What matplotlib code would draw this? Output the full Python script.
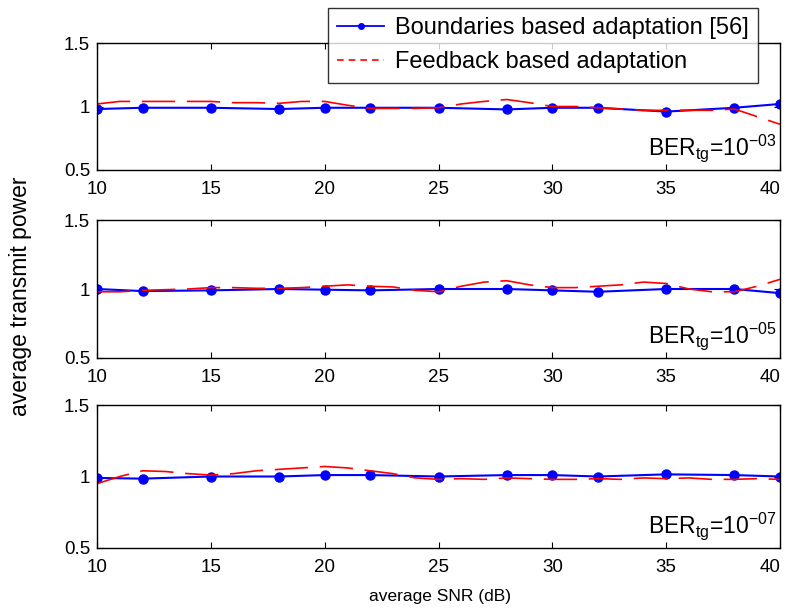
import matplotlib
matplotlib.use("Agg")
import matplotlib.pyplot as plt
from matplotlib.lines import Line2D

plt.rcParams["font.family"] = ["Liberation Sans", "DejaVu Sans"]
plt.rcParams["mathtext.fontset"] = "custom"
plt.rcParams["mathtext.rm"] = "Liberation Sans"
plt.rcParams["mathtext.it"] = "Liberation Sans"

# SNR grid of the boundaries scheme (marked points)
snr_marked = [10, 12, 15, 18, 20, 22, 25, 28, 30, 32, 35, 38, 40]
# SNR grid of the feedback scheme (1 dB steps)
snr_fine = list(range(10, 41))

ber_labels = ["-03", "-05", "-07"]

bound_1e3 = [0.98, 0.99, 0.99, 0.98, 0.99, 0.99, 0.99, 0.977, 0.99, 0.99, 0.96, 0.99, 1.02]
bound_1e5 = [1.0, 0.985, 0.99, 1.0, 0.995, 0.99, 1.0, 1.0, 0.99, 0.98, 1.0, 1.0, 0.97]
bound_1e7 = [0.99, 0.985, 1.0, 1.0, 1.01, 1.01, 1.0, 1.01, 1.01, 1.0, 1.015, 1.01, 1.0]

feed_1e3 = [1.02, 1.04, 1.04, 1.04, 1.04, 1.04, 1.03, 1.03, 1.025, 1.04, 1.04,
            1.01, 0.985, 0.985, 0.985, 0.99, 1.02, 1.04, 1.055, 1.03, 1.0,
            1.0, 0.99, 0.98, 0.97, 0.97, 0.97, 0.97, 0.98, 0.92, 0.86]
feed_1e5 = [0.98, 0.98, 0.99, 0.995, 1.0, 1.01, 1.01, 1.005, 1.005, 1.01, 1.02,
            1.03, 1.02, 1.015, 0.99, 0.98, 1.02, 1.05, 1.06, 1.03, 1.01,
            1.01, 1.02, 1.03, 1.05, 1.04, 1.0, 0.98, 0.98, 1.02, 1.07]
feed_1e7 = [0.95, 1.0, 1.04, 1.035, 1.02, 1.01, 1.02, 1.04, 1.05, 1.06, 1.07,
            1.06, 1.04, 1.02, 0.99, 0.98, 0.985, 0.98, 0.99, 0.985, 0.98,
            0.98, 0.985, 0.98, 0.99, 0.985, 0.99, 0.98, 0.98, 0.985, 0.98]

bound = [bound_1e3, bound_1e5, bound_1e7]
feed = [feed_1e3, feed_1e5, feed_1e7]

fig = plt.figure(figsize=(7.86, 6.10), dpi=100)
left, width = 97 / 786, 683 / 786
boxes = [(43, 170), (220, 358), (405, 548)]

for k, (top, bot) in enumerate(boxes):
    ax = fig.add_axes([left, 1 - bot / 610, width, (bot - top) / 610])
    ax.plot(snr_marked, bound[k], color="blue", lw=1.5, marker="o", ms=6.5)
    ax.plot(snr_fine, feed[k], color="red", lw=1.2, dashes=(20, 7))
    ax.set_xlim(10, 40)
    ax.set_ylim(0.5, 1.5)
    ax.set_xticks([10, 15, 20, 25, 30, 35, 40])
    ax.set_yticks([0.5, 1, 1.5])
    ax.set_yticklabels(["0.5", "1", "1.5"])
    ax.tick_params(direction="in", top=True, right=True, labelsize=13.5, length=4)
    ax.tick_params(axis="x", pad=8)
    ax.tick_params(axis="y", pad=5)
    ax.get_xticklabels()[-1].set_horizontalalignment("right")
    for s in ax.spines.values():
        s.set_linewidth(1.0)
    ax.text(0.995, 0.045, "BER$_{tg}$=10$^{" + ber_labels[k] + "}$",
            transform=ax.transAxes, ha="right", va="bottom", fontsize=16.5)

handles = [
    Line2D([], [], color="blue", lw=1.3, marker="o", ms=4),
    Line2D([], [], color="red", lw=1.2, dashes=(4, 3)),
]
leg = fig.legend(handles, ["Boundaries based adaptation [56]", "Feedback based adaptation"],
                 loc="upper right", bbox_to_anchor=(758 / 786, 1 - 8 / 610), borderaxespad=0,
                 fontsize=17, frameon=True, fancybox=False, edgecolor="black",
                 handlelength=2.0, handletextpad=0.45, borderpad=0.4, labelspacing=0.5)
leg.get_frame().set_linewidth(1.0)

fig.text(440 / 786, 1 - 596 / 610, "average SNR (dB)", ha="center", va="center", fontsize=12.5)
fig.text(21 / 786, 1 - 296 / 610, "average transmit power", ha="center", va="center",
         rotation=90, fontsize=16.5)

fig.savefig("out.png", dpi=100)
